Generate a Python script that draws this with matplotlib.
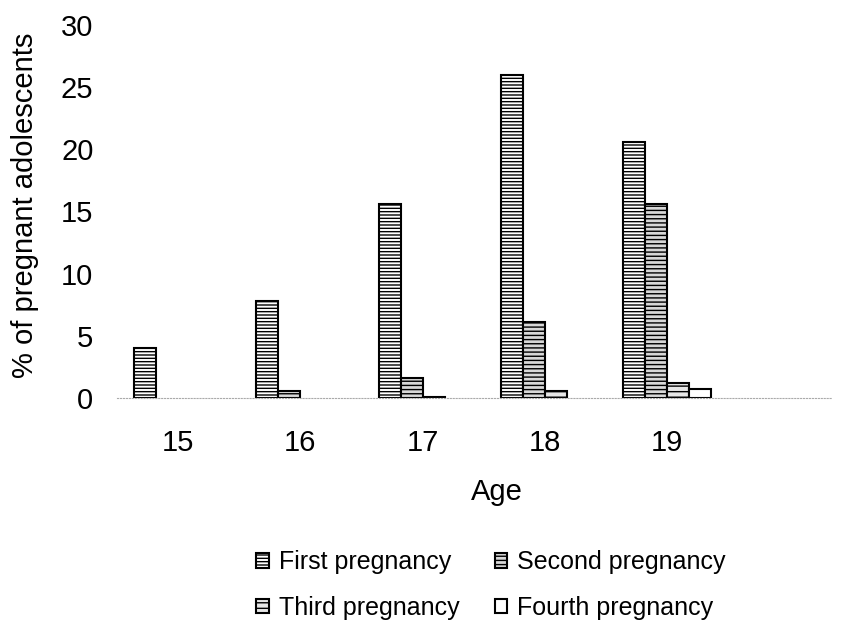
import numpy as np
import matplotlib
matplotlib.use("Agg")
import matplotlib.pyplot as plt

plt.rcParams['font.family'] = ['Liberation Sans', 'DejaVu Sans']
plt.rcParams['hatch.linewidth'] = 1.0

ages = ['15', '16', '17', '18', '19']
first = [4.0, 7.8, 15.6, 26.0, 20.6]
second = [None, 0.6, 1.6, 6.1, 15.6]
third = [None, None, 0.1, 0.6, 1.2]
fourth = [None, None, None, None, 0.7]

series = [
    ('First pregnancy', first, 'white', '-----'),
    ('Second pregnancy', second, '#d8d8d8', '----'),
    ('Third pregnancy', third, '#e6e6e6', '---'),
    ('Fourth pregnancy', fourth, 'white', None),
]

fig = plt.figure(figsize=(8.51, 6.22), dpi=100)
ax = fig.add_axes([117 / 851, 1 - 398 / 622, 715 / 851, 373 / 622])

x = np.arange(len(ages))
w = 0.18
handles = []
for i, (name, vals, fc, hatch) in enumerate(series):
    v = np.array([np.nan if a is None else a for a in vals], dtype=float)
    b = ax.bar(x + (i - 1.5) * w, v, w, color=fc, edgecolor='black',
               linewidth=1.5, hatch=hatch, label=name)
    handles.append(b)

ax.set_ylim(0, 30)
ax.set_xlim(-0.5, 5.35)
ax.set_yticks([0, 5, 10, 15, 20, 25, 30])
ax.set_xticks(x)
ax.set_xticklabels(ages)
ax.tick_params(axis='both', length=0, labelsize=21)
ax.tick_params(axis='y', pad=17)
ax.tick_params(axis='x', pad=22)
for s in ['top', 'right', 'left']:
    ax.spines[s].set_visible(False)
ax.spines['bottom'].set_color('#aaaaaa')
ax.spines['bottom'].set_linestyle(':')

ax.set_xlabel('Age', fontsize=21)
ax.xaxis.set_label_coords((497 - 117) / 715, -(492 - 398) / 373)
ax.xaxis.label.set_va('center')
fig.text(25 / 851, 1 - 205 / 622, '% of pregnant adolescents', rotation=90,
         fontsize=21, ha='center', va='center')

order = [0, 2, 1, 3]
leg = fig.legend([handles[i] for i in order], [series[i][0] for i in order],
                 loc='center', bbox_to_anchor=(491 / 851, 1 - 585 / 622), ncol=2,
                 frameon=False, fontsize=18, handlelength=0.5, handleheight=0.5,
                 handletextpad=0.4, columnspacing=1.4, labelspacing=0.85)

fig.savefig('out.png', dpi=100)
